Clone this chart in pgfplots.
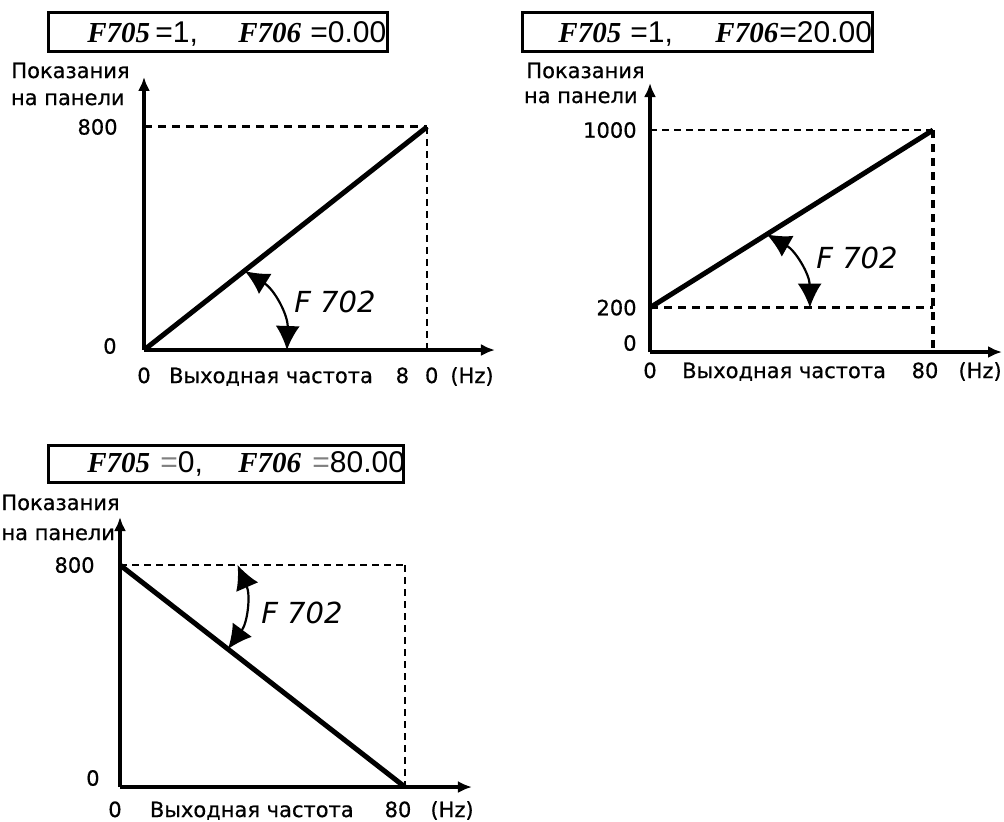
\documentclass[border=0pt]{standalone}
\usepackage{fontspec}
\setmainfont{DejaVu Sans}[FakeBold=0.6]
\newfontfamily\titleserif{Liberation Serif}
\newfontfamily\titlesans{Liberation Sans}
\newfontfamily\segfont{DejaVu Sans}
\usepackage{pgfplots}
\pgfplotsset{compat=1.18}
\usetikzlibrary{arrows.meta}
\pgfplotsset{
  panel/.style={
    scale only axis, axis lines=left, clip=false,
    axis line style={line width=2pt, -{Latex[length=7pt,width=6pt]}},
    xmin=0, ymin=0, anchor=south west,
    major tick length=0pt,
    tick label style={font=\fontsize{10.5}{12}\selectfont, inner sep=0pt},
    /pgf/number format/assume math mode=true,
    xticklabel style={anchor=base},
    yticklabel style={anchor=east},
  },
  mainline/.style={line width=2.5pt, black},
  thickdash/.style={line width=1.5pt, black, dash pattern=on 4pt off 3pt},
  thindash/.style={line width=1pt, black, dash pattern=on 3.5pt off 2.5pt},
}
\tikzset{
  anglearrow/.style={line width=1.1pt, {Latex[length=12pt,width=12pt]}-{Latex[length=12pt,width=12pt]}},
  lbl/.style={font=\fontsize{10.5}{12}\selectfont, inner sep=0pt},
  f702/.style={font=\segfont\fontsize{14.5}{18}\selectfont\itshape, inner sep=0pt},
  ttl/.style={inner sep=0pt, anchor=base west},
}
\begin{document}
\begin{tikzpicture}
\useasboundingbox (0,0) rectangle (502pt,-410.5pt);

% ---------- Panel 1 ----------
\begin{axis}[panel, at={(72pt,-175pt)}, width=175.5pt, height=136.5pt,
  xmax=99.2, ymax=979,
  xtick={0}, xticklabels={0}, xticklabel style={yshift=-16.5pt},
  extra x ticks={80}, extra x tick labels={{8\hspace{8pt}0}},
  extra x tick style={xticklabel style={xshift=-5pt}},
  ytick={800}, yticklabels={800}, yticklabel style={xshift=-13pt},
  extra y ticks={0}, extra y tick labels={0},
  extra y tick style={yticklabel style={yshift=2pt, xshift=-0.5pt}},
]
\addplot[thickdash] coordinates {(0,800) (80,800)};
\addplot[thindash] coordinates {(80,800) (80,0)};
\addplot[mainline] coordinates {(0,0) (80,800)};
\draw[anglearrow] (axis cs:28.5,283) to[bend left=30] (axis cs:40.4,0);
\node[lbl, anchor=base, yshift=-16.5pt] at (axis cs:35.9,0) {Выходная частота};
\node[lbl, anchor=base, yshift=-16.5pt] at (axis cs:92.7,0) {(Hz)};
\end{axis}

% ---------- Panel 2 ----------
\begin{axis}[panel, at={(325pt,-176pt)}, width=176pt, height=134.5pt,
  xmax=99.5, ymax=1212,
  xtick={0}, xticklabels={0}, xticklabel style={yshift=-13pt},
  extra x ticks={80}, extra x tick labels={80},
  extra x tick style={xticklabel style={xshift=-4pt}},
  ytick={200,1000}, yticklabels={200,1000}, yticklabel style={xshift=-6.5pt},
  extra y ticks={0}, extra y tick labels={0},
  extra y tick style={yticklabel style={yshift=4.5pt}},
]
\addplot[thindash] coordinates {(0,1000) (80,1000)};
\addplot[thickdash, line width=2pt] coordinates {(80,1000) (80,0)};
\addplot[thickdash] coordinates {(0,200) (80,200)};
\addplot[mainline] coordinates {(0,200) (80,1000)};
\draw[anglearrow] (axis cs:33,530) to[bend left=30] (axis cs:45.2,200);
\node[lbl, anchor=base, yshift=-13pt] at (axis cs:37.9,0) {Выходная частота};
\node[lbl, anchor=base, yshift=-13pt] at (axis cs:93.3,0) {(Hz)};
\end{axis}

% ---------- Panel 3 ----------
\begin{axis}[panel, at={(60pt,-393.5pt)}, width=176pt, height=135pt,
  xmax=98.8, ymax=973,
  xtick={0}, xticklabels={0}, xticklabel style={yshift=-15pt, xshift=-2.5pt},
  extra x ticks={80}, extra x tick labels={80},
  extra x tick style={xticklabel style={xshift=-1pt}},
  ytick={800}, yticklabels={800}, yticklabel style={xshift=-12.5pt},
  extra y ticks={0}, extra y tick labels={0},
  extra y tick style={yticklabel style={yshift=4.5pt, xshift=2.5pt}},
]
\addplot[thindash] coordinates {(0,800) (80,800)};
\addplot[thindash] coordinates {(80,800) (80,0)};
\addplot[mainline] coordinates {(0,800) (80,0)};
\draw[anglearrow] (axis cs:33,800) to[bend left=30] (axis cs:30.3,497);
\node[lbl, anchor=base, yshift=-15pt] at (axis cs:37,0) {Выходная частота};
\node[lbl, anchor=base, yshift=-15pt] at (axis cs:93.2,0) {(Hz)};
\end{axis}

% ---------- y-axis titles ----------
\node[lbl, anchor=base east] at (65pt,-39pt) {Показания};
\node[lbl, anchor=base east] at (62.5pt,-52.5pt) {на панели};
\node[lbl, anchor=base east] at (322.5pt,-39pt) {Показания};
\node[lbl, anchor=base east] at (319pt,-51.5pt) {на панели};
\node[lbl, anchor=base west] at (0.5pt,-255pt) {Показания};
\node[lbl, anchor=base west] at (0.5pt,-270pt) {на панели};

% ---------- F702 labels ----------
\node[f702] at (167.5pt,-151pt) {F 702};
\node[f702] at (428.5pt,-129pt) {F 702};
\node[f702] at (151pt,-306.5pt) {F 702};

% ---------- title boxes ----------
\draw[line width=1.5pt] (24pt,-6pt) rectangle (193.5pt,-25.5pt);
\node[ttl] at (43.5pt,-21pt) {\titleserif\fontsize{14.5}{16}\selectfont\bfseries\itshape F705};
\node[ttl] at (77.5pt,-21pt) {\titlesans\fontsize{15}{17}\selectfont =1,};
\node[ttl] at (119pt,-21pt) {\titleserif\fontsize{14.5}{16}\selectfont\bfseries\itshape F706};
\node[ttl] at (155pt,-21pt) {\titlesans\fontsize{15}{17}\selectfont =0.00};

\draw[line width=1.5pt] (261pt,-6pt) rectangle (436pt,-25.5pt);
\node[ttl] at (279pt,-21pt) {\titleserif\fontsize{14.5}{16}\selectfont\bfseries\itshape F705};
\node[ttl] at (315pt,-21pt) {\titlesans\fontsize{15}{17}\selectfont =1,};
\node[ttl] at (357.5pt,-21pt) {\titleserif\fontsize{14.5}{16}\selectfont\bfseries\itshape F706};
\node[ttl] at (389.5pt,-21pt) {\titlesans\fontsize{15}{17}\selectfont =20.00};

\draw[line width=1.5pt] (24pt,-222.5pt) rectangle (201.5pt,-241pt);
\node[ttl] at (43.5pt,-236pt) {\titleserif\fontsize{14.5}{16}\selectfont\bfseries\itshape F705};
\node[ttl] at (80pt,-236pt) {\titlesans\fontsize{15}{17}\selectfont \textcolor{gray}{=}0,};
\node[ttl] at (119pt,-236pt) {\titleserif\fontsize{14.5}{16}\selectfont\bfseries\itshape F706};
\node[ttl] at (156pt,-236pt) {\titlesans\fontsize{15}{17}\selectfont \textcolor{gray}{=}80.00};
\end{tikzpicture}
\end{document}
